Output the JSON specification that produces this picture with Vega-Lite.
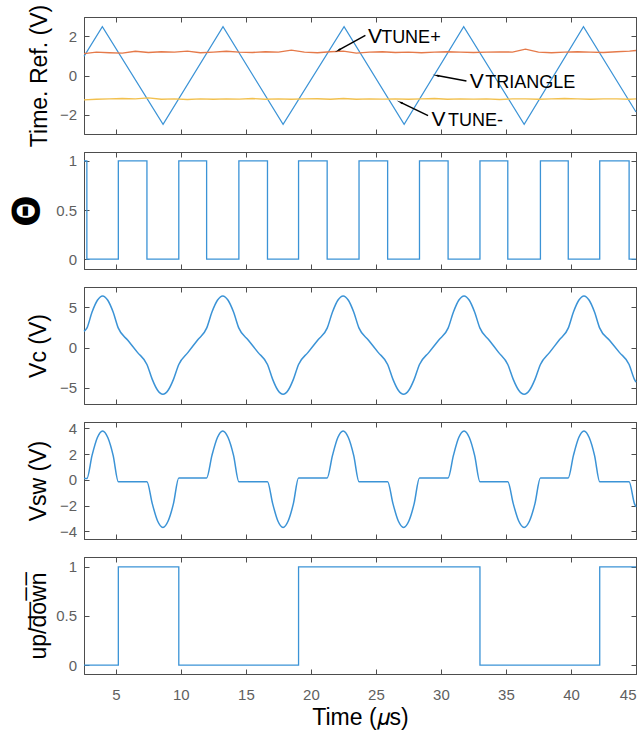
{
  "$schema": "https://vega.github.io/schema/vega-lite/v6.json",
  "padding": {"left": 7, "top": 3, "right": 5, "bottom": 5},
  "spacing": 18,
  "bounds": "flush",
  "config": {
    "font": "Liberation Sans",
    "view": {"stroke": "#4d4d4d", "strokeWidth": 1},
    "axis": {
      "grid": false, "tickSize": -5, "tickColor": "#4d4d4d", "domainColor": "#4d4d4d",
      "labelColor": "#5f5f5f", "labelFont": "Liberation Sans", "labelFontSize": 15, "format": "~g",
      "titleFont": "Liberation Sans", "titleFontSize": 23, "titleFontWeight": "normal", "titleColor": "#000000"
    },
    "axisX": {"labelPadding": 18, "titlePadding": 4},
    "axisY": {"labelPadding": 12.5}
  },
  "datasets": {
    "tri": [
      {"t": 2.55, "v": 0.98}, {"t": 3.96, "v": 2.5}, {"t": 8.63, "v": -2.5}, {"t": 13.24, "v": 2.5},
      {"t": 17.86, "v": -2.5}, {"t": 22.55, "v": 2.5}, {"t": 27.17, "v": -2.5}, {"t": 31.75, "v": 2.5},
      {"t": 36.4, "v": -2.5}, {"t": 40.96, "v": 2.5}, {"t": 45.0, "v": -1.87}
    ],
    "tp": [
      {"t": 2.55, "v": 1.12}, {"t": 3.5, "v": 1.2}, {"t": 4.5, "v": 1.17}, {"t": 5.5, "v": 1.15}, {"t": 6.5, "v": 1.24},
      {"t": 7.5, "v": 1.18}, {"t": 8.5, "v": 1.22}, {"t": 9.5, "v": 1.2}, {"t": 10.5, "v": 1.25}, {"t": 11.5, "v": 1.17},
      {"t": 12.5, "v": 1.2}, {"t": 13.5, "v": 1.24}, {"t": 14.5, "v": 1.2}, {"t": 15.5, "v": 1.18}, {"t": 16.5, "v": 1.22},
      {"t": 17.5, "v": 1.2}, {"t": 18.5, "v": 1.3}, {"t": 19.5, "v": 1.2}, {"t": 20.5, "v": 1.17}, {"t": 21.5, "v": 1.22},
      {"t": 22.5, "v": 1.25}, {"t": 23.5, "v": 1.15}, {"t": 24.5, "v": 1.2}, {"t": 25.5, "v": 1.22}, {"t": 26.5, "v": 1.18},
      {"t": 27.5, "v": 1.2}, {"t": 28.5, "v": 1.17}, {"t": 29.5, "v": 1.2}, {"t": 30.5, "v": 1.22}, {"t": 31.5, "v": 1.2},
      {"t": 32.5, "v": 1.18}, {"t": 33.5, "v": 1.2}, {"t": 34.5, "v": 1.21}, {"t": 35.5, "v": 1.2}, {"t": 36.5, "v": 1.35},
      {"t": 37.5, "v": 1.2}, {"t": 38.5, "v": 1.17}, {"t": 39.5, "v": 1.2}, {"t": 40.5, "v": 1.22}, {"t": 41.5, "v": 1.2},
      {"t": 42.5, "v": 1.18}, {"t": 43.5, "v": 1.22}, {"t": 44.5, "v": 1.25}, {"t": 45.0, "v": 1.28}
    ],
    "tm": [
      {"t": 2.55, "v": -1.25}, {"t": 3.5, "v": -1.22}, {"t": 4.5, "v": -1.2}, {"t": 5.5, "v": -1.18}, {"t": 6.5, "v": -1.2},
      {"t": 7.5, "v": -1.15}, {"t": 8.5, "v": -1.22}, {"t": 9.5, "v": -1.2}, {"t": 10.5, "v": -1.23}, {"t": 11.5, "v": -1.2},
      {"t": 12.5, "v": -1.22}, {"t": 13.5, "v": -1.2}, {"t": 14.5, "v": -1.21}, {"t": 15.5, "v": -1.18}, {"t": 16.5, "v": -1.22},
      {"t": 17.5, "v": -1.2}, {"t": 18.5, "v": -1.22}, {"t": 19.5, "v": -1.2}, {"t": 20.5, "v": -1.19}, {"t": 21.5, "v": -1.22},
      {"t": 22.5, "v": -1.18}, {"t": 23.5, "v": -1.22}, {"t": 24.5, "v": -1.2}, {"t": 25.5, "v": -1.21}, {"t": 26.5, "v": -1.2},
      {"t": 27.5, "v": -1.22}, {"t": 28.5, "v": -1.2}, {"t": 29.5, "v": -1.18}, {"t": 30.5, "v": -1.22}, {"t": 31.5, "v": -1.2},
      {"t": 32.5, "v": -1.21}, {"t": 33.5, "v": -1.2}, {"t": 34.5, "v": -1.23}, {"t": 35.5, "v": -1.2}, {"t": 36.5, "v": -1.2},
      {"t": 37.5, "v": -1.22}, {"t": 38.5, "v": -1.2}, {"t": 39.5, "v": -1.18}, {"t": 40.5, "v": -1.2}, {"t": 41.5, "v": -1.22},
      {"t": 42.5, "v": -1.2}, {"t": 43.5, "v": -1.2}, {"t": 44.5, "v": -1.22}, {"t": 45.0, "v": -1.2}
    ],
    "arrows": [
      {"x1": 24.19, "y1": 2.06, "x2": 22.13, "y2": 1.3, "dir": 241},
      {"x1": 31.96, "y1": -0.28, "x2": 29.7, "y2": 0.0, "dir": 281},
      {"x1": 29.01, "y1": -2.06, "x2": 26.9, "y2": -1.38, "dir": 296}
    ],
    "annV": [
      {"t": 24.39, "v": 1.69, "s": "V"},
      {"t": 32.21, "v": -0.63, "s": "V"},
      {"t": 29.27, "v": -2.61, "s": "V"}
    ],
    "annS": [
      {"t": 25.4, "v": 1.69, "s": "TUNE+"},
      {"t": 33.4, "v": -0.63, "s": "TRIANGLE"},
      {"t": 30.55, "v": -2.61, "s": "TUNE-"}
    ],
    "theta": [
      {"t": 2.55, "v": 1}, {"t": 2.77, "v": 0}, {"t": 5.19, "v": 1}, {"t": 7.39, "v": 0}, {"t": 9.84, "v": 1},
      {"t": 11.98, "v": 0}, {"t": 14.46, "v": 1}, {"t": 16.66, "v": 0}, {"t": 19.05, "v": 1}, {"t": 21.25, "v": 0},
      {"t": 23.7, "v": 1}, {"t": 25.9, "v": 0}, {"t": 28.35, "v": 1}, {"t": 30.55, "v": 0}, {"t": 33.0, "v": 1},
      {"t": 35.14, "v": 0}, {"t": 37.65, "v": 1}, {"t": 39.79, "v": 0}, {"t": 42.21, "v": 1}, {"t": 44.47, "v": 0},
      {"t": 45.0, "v": 0}
    ],
    "vc": [
      {"t": 2.55, "v": 2.0},
      {"t": 2.77, "v": 2.4}, {"t": 3.17, "v": 4.4}, {"t": 3.58, "v": 5.86}, {"t": 3.98, "v": 6.4}, {"t": 4.38, "v": 5.86}, {"t": 4.79, "v": 4.4}, {"t": 5.19, "v": 2.4},
      {"t": 5.92, "v": 0.9}, {"t": 6.66, "v": -0.6},
      {"t": 7.39, "v": -2.1}, {"t": 7.8, "v": -3.95}, {"t": 8.21, "v": -5.3}, {"t": 8.62, "v": -5.8}, {"t": 9.02, "v": -5.3}, {"t": 9.43, "v": -3.95}, {"t": 9.84, "v": -2.1},
      {"t": 10.55, "v": -0.6}, {"t": 11.27, "v": 0.9},
      {"t": 11.98, "v": 2.4}, {"t": 12.39, "v": 4.4}, {"t": 12.81, "v": 5.86}, {"t": 13.22, "v": 6.4}, {"t": 13.63, "v": 5.86}, {"t": 14.05, "v": 4.4}, {"t": 14.46, "v": 2.4},
      {"t": 15.19, "v": 0.9}, {"t": 15.93, "v": -0.6},
      {"t": 16.66, "v": -2.1}, {"t": 17.06, "v": -3.95}, {"t": 17.46, "v": -5.3}, {"t": 17.86, "v": -5.8}, {"t": 18.25, "v": -5.3}, {"t": 18.65, "v": -3.95}, {"t": 19.05, "v": -2.1},
      {"t": 19.78, "v": -0.6}, {"t": 20.52, "v": 0.9},
      {"t": 21.25, "v": 2.4}, {"t": 21.66, "v": 4.4}, {"t": 22.07, "v": 5.86}, {"t": 22.48, "v": 6.4}, {"t": 22.88, "v": 5.86}, {"t": 23.29, "v": 4.4}, {"t": 23.7, "v": 2.4},
      {"t": 24.43, "v": 0.9}, {"t": 25.17, "v": -0.6},
      {"t": 25.9, "v": -2.1}, {"t": 26.31, "v": -3.95}, {"t": 26.72, "v": -5.3}, {"t": 27.13, "v": -5.8}, {"t": 27.53, "v": -5.3}, {"t": 27.94, "v": -3.95}, {"t": 28.35, "v": -2.1},
      {"t": 29.08, "v": -0.6}, {"t": 29.82, "v": 0.9},
      {"t": 30.55, "v": 2.4}, {"t": 30.96, "v": 4.4}, {"t": 31.37, "v": 5.86}, {"t": 31.78, "v": 6.4}, {"t": 32.18, "v": 5.86}, {"t": 32.59, "v": 4.4}, {"t": 33.0, "v": 2.4},
      {"t": 33.71, "v": 0.9}, {"t": 34.43, "v": -0.6},
      {"t": 35.14, "v": -2.1}, {"t": 35.56, "v": -3.95}, {"t": 35.98, "v": -5.3}, {"t": 36.4, "v": -5.8}, {"t": 36.81, "v": -5.3}, {"t": 37.23, "v": -3.95}, {"t": 37.65, "v": -2.1},
      {"t": 38.36, "v": -0.6}, {"t": 39.08, "v": 0.9},
      {"t": 39.79, "v": 2.4}, {"t": 40.19, "v": 4.4}, {"t": 40.6, "v": 5.86}, {"t": 41.0, "v": 6.4}, {"t": 41.4, "v": 5.86}, {"t": 41.81, "v": 4.4}, {"t": 42.21, "v": 2.4},
      {"t": 42.96, "v": 0.9}, {"t": 43.72, "v": -0.6},
      {"t": 44.47, "v": -2.1}, {"t": 44.88, "v": -3.95}, {"t": 45.0, "v": -4.3}
    ],
    "vsw": [
      {"t": 2.55, "v": 0.1},
      {"t": 2.77, "v": 0.1}, {"t": 3.17, "v": 1.9}, {"t": 3.58, "v": 3.29}, {"t": 3.98, "v": 3.8}, {"t": 4.38, "v": 3.29}, {"t": 4.79, "v": 1.9}, {"t": 5.19, "v": -0.15},
      {"t": 7.39, "v": -0.15}, {"t": 7.8, "v": -1.85}, {"t": 8.21, "v": -3.2}, {"t": 8.62, "v": -3.7}, {"t": 9.02, "v": -3.2}, {"t": 9.43, "v": -1.85}, {"t": 9.84, "v": 0.15},
      {"t": 11.98, "v": 0.15}, {"t": 12.39, "v": 1.9}, {"t": 12.81, "v": 3.29}, {"t": 13.22, "v": 3.8}, {"t": 13.63, "v": 3.29}, {"t": 14.05, "v": 1.9}, {"t": 14.46, "v": -0.15},
      {"t": 16.66, "v": -0.15}, {"t": 17.06, "v": -1.85}, {"t": 17.46, "v": -3.2}, {"t": 17.86, "v": -3.7}, {"t": 18.25, "v": -3.2}, {"t": 18.65, "v": -1.85}, {"t": 19.05, "v": 0.15},
      {"t": 21.25, "v": 0.15}, {"t": 21.66, "v": 1.9}, {"t": 22.07, "v": 3.29}, {"t": 22.48, "v": 3.8}, {"t": 22.88, "v": 3.29}, {"t": 23.29, "v": 1.9}, {"t": 23.7, "v": -0.15},
      {"t": 25.9, "v": -0.15}, {"t": 26.31, "v": -1.85}, {"t": 26.72, "v": -3.2}, {"t": 27.13, "v": -3.7}, {"t": 27.53, "v": -3.2}, {"t": 27.94, "v": -1.85}, {"t": 28.35, "v": 0.15},
      {"t": 30.55, "v": 0.15}, {"t": 30.96, "v": 1.9}, {"t": 31.37, "v": 3.29}, {"t": 31.78, "v": 3.8}, {"t": 32.18, "v": 3.29}, {"t": 32.59, "v": 1.9}, {"t": 33.0, "v": -0.15},
      {"t": 35.14, "v": -0.15}, {"t": 35.56, "v": -1.85}, {"t": 35.98, "v": -3.2}, {"t": 36.4, "v": -3.7}, {"t": 36.81, "v": -3.2}, {"t": 37.23, "v": -1.85}, {"t": 37.65, "v": 0.15},
      {"t": 39.79, "v": 0.15}, {"t": 40.19, "v": 1.9}, {"t": 40.6, "v": 3.29}, {"t": 41.0, "v": 3.8}, {"t": 41.4, "v": 3.29}, {"t": 41.81, "v": 1.9}, {"t": 42.21, "v": -0.15},
      {"t": 44.47, "v": -0.15}, {"t": 44.88, "v": -1.85}, {"t": 45.0, "v": -2.1}
    ],
    "ud": [
      {"t": 2.55, "v": 0}, {"t": 5.19, "v": 1}, {"t": 9.84, "v": 0}, {"t": 19.05, "v": 1},
      {"t": 33.0, "v": 0}, {"t": 42.21, "v": 1}, {"t": 45.0, "v": 1}
    ]
  },
  "vconcat": [
    {
      "width": 552, "height": 117,
      "resolve": {"axis": {"x": "independent", "y": "independent"}},
      "layer": [
        {
          "data": {"name": "tri"},
          "mark": {"type": "line", "color": "#3b93d6", "strokeWidth": 1.2},
          "encoding": {
            "x": {"field": "t", "type": "quantitative", "scale": {"domain": [2.55, 45], "nice": false, "zero": false},
                  "axis": {"orient": "bottom", "values": [5,10,15,20,25,30,35,40,45], "labels": false, "title": null}},
            "y": {"field": "v", "type": "quantitative", "scale": {"domain": [-3, 3], "nice": false, "zero": false},
                  "axis": {"orient": "left", "values": [-2, 0, 2], "title": "Time. Ref. (V)", "titleAngle": -90, "titleX": -38, "titleY": 58.5, "titleAlign": "center", "titleBaseline": "alphabetic"}}
          }
        },
        {
          "data": {"name": "tp"},
          "mark": {"type": "line", "color": "#e57a4a", "strokeWidth": 1.4},
          "encoding": {
            "x": {"field": "t", "type": "quantitative", "axis": {"orient": "top", "values": [5,10,15,20,25,30,35,40,45], "labels": false, "title": null}},
            "y": {"field": "v", "type": "quantitative", "axis": {"orient": "right", "values": [-2, 0, 2], "labels": false, "title": null}}
          }
        },
        {
          "data": {"name": "tm"},
          "mark": {"type": "line", "color": "#f2c04e", "strokeWidth": 1.4},
          "encoding": {
            "x": {"field": "t", "type": "quantitative", "axis": null},
            "y": {"field": "v", "type": "quantitative", "axis": null}
          }
        },
        {
          "data": {"name": "arrows"},
          "mark": {"type": "rule", "color": "#000000", "strokeWidth": 1.5},
          "encoding": {
            "x": {"field": "x1", "type": "quantitative", "axis": null},
            "y": {"field": "y1", "type": "quantitative", "axis": null},
            "x2": {"field": "x2"},
            "y2": {"field": "y2"}
          }
        },
        {
          "data": {"name": "arrows"},
          "mark": {"type": "point", "shape": "wedge", "filled": true, "color": "#000000", "size": 60, "opacity": 1},
          "encoding": {
            "x": {"field": "x2", "type": "quantitative", "axis": null},
            "y": {"field": "y2", "type": "quantitative", "axis": null},
            "angle": {"field": "dir", "type": "quantitative", "scale": null}
          }
        },
        {
          "data": {"name": "annV"},
          "mark": {"type": "text", "align": "left", "baseline": "alphabetic", "fontSize": 21, "font": "Liberation Sans", "color": "#000000"},
          "encoding": {
            "x": {"field": "t", "type": "quantitative", "axis": null},
            "y": {"field": "v", "type": "quantitative", "axis": null},
            "text": {"field": "s"}
          }
        },
        {
          "data": {"name": "annS"},
          "mark": {"type": "text", "align": "left", "baseline": "alphabetic", "fontSize": 18, "font": "Liberation Sans", "color": "#000000"},
          "encoding": {
            "x": {"field": "t", "type": "quantitative", "axis": null},
            "y": {"field": "v", "type": "quantitative", "axis": null},
            "text": {"field": "s"}
          }
        }
      ]
    },
    {
      "width": 552, "height": 117,
      "resolve": {"axis": {"x": "independent", "y": "independent"}},
      "layer": [
        {
          "data": {"name": "theta"},
          "mark": {"type": "line", "color": "#3b93d6", "strokeWidth": 1.3, "interpolate": "step-after"},
          "encoding": {
            "x": {"field": "t", "type": "quantitative", "scale": {"domain": [2.55, 45], "nice": false, "zero": false},
                  "axis": {"orient": "bottom", "values": [5,10,15,20,25,30,35,40,45], "labels": false, "title": null}},
            "y": {"field": "v", "type": "quantitative", "scale": {"domain": [-0.1, 1.09], "nice": false, "zero": false},
                  "axis": {"orient": "left", "values": [0, 0.5, 1], "title": "Θ", "titleFont": "DejaVu Sans", "titleFontSize": 37, "titleFontWeight": "bold", "titleAngle": -90, "titleX": -46, "titleY": 58.5, "titleAlign": "center", "titleBaseline": "alphabetic"}}
          }
        },
        {
          "data": {"name": "theta"},
          "mark": {"type": "line", "opacity": 0, "interpolate": "step-after"},
          "encoding": {
            "x": {"field": "t", "type": "quantitative", "axis": {"orient": "top", "values": [5,10,15,20,25,30,35,40,45], "labels": false, "title": null}},
            "y": {"field": "v", "type": "quantitative", "axis": {"orient": "right", "values": [0, 0.5, 1], "labels": false, "title": null}}
          }
        }
      ]
    },
    {
      "width": 552, "height": 117,
      "resolve": {"axis": {"x": "independent", "y": "independent"}},
      "layer": [
        {
          "data": {"name": "vc"},
          "mark": {"type": "line", "color": "#3b93d6", "strokeWidth": 1.5, "interpolate": "monotone"},
          "encoding": {
            "x": {"field": "t", "type": "quantitative", "scale": {"domain": [2.55, 45], "nice": false, "zero": false},
                  "axis": {"orient": "bottom", "values": [5,10,15,20,25,30,35,40,45], "labels": false, "title": null}},
            "y": {"field": "v", "type": "quantitative", "scale": {"domain": [-7, 7.5], "nice": false, "zero": false},
                  "axis": {"orient": "left", "values": [-5, 0, 5], "title": "Vc (V)", "titleAngle": -90, "titleX": -39, "titleY": 58.5, "titleAlign": "center", "titleBaseline": "alphabetic"}}
          }
        },
        {
          "data": {"name": "vc"},
          "mark": {"type": "line", "opacity": 0},
          "encoding": {
            "x": {"field": "t", "type": "quantitative", "axis": {"orient": "top", "values": [5,10,15,20,25,30,35,40,45], "labels": false, "title": null}},
            "y": {"field": "v", "type": "quantitative", "axis": {"orient": "right", "values": [-5, 0, 5], "labels": false, "title": null}}
          }
        }
      ]
    },
    {
      "width": 552, "height": 117,
      "resolve": {"axis": {"x": "independent", "y": "independent"}},
      "layer": [
        {
          "data": {"name": "vsw"},
          "mark": {"type": "line", "color": "#3b93d6", "strokeWidth": 1.5, "interpolate": "monotone"},
          "encoding": {
            "x": {"field": "t", "type": "quantitative", "scale": {"domain": [2.55, 45], "nice": false, "zero": false},
                  "axis": {"orient": "bottom", "values": [5,10,15,20,25,30,35,40,45], "labels": false, "title": null}},
            "y": {"field": "v", "type": "quantitative", "scale": {"domain": [-4.6, 4.5], "nice": false, "zero": false},
                  "axis": {"orient": "left", "values": [-4, -2, 0, 2, 4], "title": "Vsw (V)", "titleAngle": -90, "titleX": -39, "titleY": 58.5, "titleAlign": "center", "titleBaseline": "alphabetic"}}
          }
        },
        {
          "data": {"name": "vsw"},
          "mark": {"type": "line", "opacity": 0},
          "encoding": {
            "x": {"field": "t", "type": "quantitative", "axis": {"orient": "top", "values": [5,10,15,20,25,30,35,40,45], "labels": false, "title": null}},
            "y": {"field": "v", "type": "quantitative", "axis": {"orient": "right", "values": [-4, -2, 0, 2, 4], "labels": false, "title": null}}
          }
        }
      ]
    },
    {
      "width": 552, "height": 117,
      "resolve": {"axis": {"x": "independent", "y": "independent"}},
      "layer": [
        {
          "data": {"name": "ud"},
          "mark": {"type": "line", "color": "#3b93d6", "strokeWidth": 1.3, "interpolate": "step-after"},
          "encoding": {
            "x": {"field": "t", "type": "quantitative", "scale": {"domain": [2.55, 45], "nice": false, "zero": false},
                  "axis": {"orient": "bottom", "values": [5,10,15,20,25,30,35,40,45], "title": "Time (𝜇s)"}},
            "y": {"field": "v", "type": "quantitative", "scale": {"domain": [-0.09, 1.1], "nice": false, "zero": false},
                  "axis": {"orient": "left", "values": [0, 0.5, 1], "title": "up/d̅o̅w̅n̅", "titleAngle": -90, "titleX": -39, "titleY": 58.5, "titleAlign": "center", "titleBaseline": "alphabetic"}}
          }
        },
        {
          "data": {"name": "ud"},
          "mark": {"type": "line", "opacity": 0, "interpolate": "step-after"},
          "encoding": {
            "x": {"field": "t", "type": "quantitative", "axis": {"orient": "top", "values": [5,10,15,20,25,30,35,40,45], "labels": false, "title": null}},
            "y": {"field": "v", "type": "quantitative", "axis": {"orient": "right", "values": [0, 0.5, 1], "labels": false, "title": null}}
          }
        }
      ]
    }
  ]
}
